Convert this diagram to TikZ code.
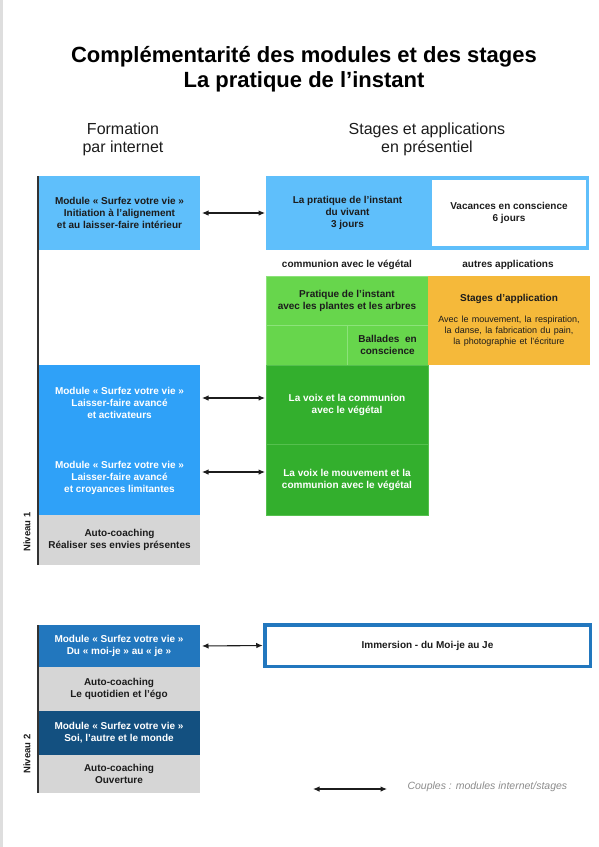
\documentclass[tikz,border=0pt]{standalone}
\usepackage{fontspec}
\setmainfont{Liberation Sans}
\usetikzlibrary{arrows}
\usetikzlibrary{arrows.meta}

\definecolor{ciel}{HTML}{5FBFFB}
\definecolor{azur}{HTML}{2FA1F8}
\definecolor{pousse}{HTML}{67D64C}
\definecolor{pousseligne}{HTML}{8CE27A}
\definecolor{foret}{HTML}{33AF2D}
\definecolor{foretligne}{HTML}{55C04E}
\definecolor{ocre}{HTML}{F5B93A}
\definecolor{galet}{HTML}{D6D6D6}
\definecolor{marine}{HTML}{2277BE}
\definecolor{abysse}{HTML}{135080}
\definecolor{encre}{HTML}{1C1C1C}
\definecolor{gris}{HTML}{8C8C8C}

\tikzstyle{bloc} = [rectangle, inner sep=0pt, outer sep=0pt, align=center, text=encre, font=\fontsize{10}{12}\selectfont\bfseries]
\tikzstyle{blanc} = [bloc, text=white]
\tikzstyle{couple} = [draw, {Latex[length=6.5pt,width=5.5pt]}-{Latex[length=6.5pt,width=5.5pt]}, line width=1.1pt, encre]
\tikzstyle{colonne} = [draw=black!80, line width=1.3pt]
\tikzstyle{niveau} = [rotate=90, text=encre, font=\fontsize{9.5}{11}\selectfont\bfseries]

\begin{document}
\begin{tikzpicture}[x=1pt,y=-1pt]
\useasboundingbox (0,0) rectangle (599,847);
\fill[white] (0,0) rectangle (599,847);
\fill[galet!80] (0,0) rectangle (2.5,847);

% titres
\node[font=\fontsize{22}{25}\selectfont\bfseries, align=center, text=black] (titre) at (304,69.5) {Complémentarité des modules et des stages\\La pratique de l’instant};
\node[font=\fontsize{16}{18}\selectfont, align=center, text=encre] (formation) at (123,139) {Formation\\par internet};
\node[font=\fontsize{16}{18}\selectfont, align=center, text=encre] (stages) at (427,139) {Stages et applications\\en présentiel};

% niveau 1
\node[bloc, fill=ciel, minimum width=161pt, minimum height=74pt] (m1) at (119.5,213) {Module « Surfez votre vie »\\Initiation à l’alignement\\et au laisser-faire intérieur};
\node[blanc, fill=azur, minimum width=161pt, minimum height=76pt] (m2) at (119.5,403) {Module « Surfez votre vie »\\Laisser-faire avancé\\et activateurs};
\node[blanc, fill=azur, minimum width=161pt, minimum height=74pt] (m3) at (119.5,478) {Module « Surfez votre vie »\\Laisser-faire avancé\\et croyances limitantes};
\node[bloc, fill=galet, minimum width=161pt, minimum height=50pt] (a1) at (119.5,540) {Auto-coaching\\Réaliser ses envies présentes};
\draw[colonne] ([xshift=-1pt]m1.north west) -- ([xshift=-1pt]a1.south west);
\node[niveau] (niv1) at (27,532) {Niveau 1};

\node[bloc, fill=ciel, minimum width=163pt, minimum height=74pt] (s1) at (347.5,213) {La pratique de l’instant\\du vivant\\3 jours};
\node[bloc, fill=white, draw=ciel, line width=3.5pt, minimum width=157pt, minimum height=70pt] (s2) at (509,213) {Vacances en conscience\\6 jours};

\node[bloc] (vegetal) at (347,265) {communion avec le végétal};
\node[bloc] (autres) at (508,265) {autres applications};

\node[bloc, fill=pousse, draw=pousseligne, line width=0.6pt, minimum width=162pt, minimum height=49pt] (p1) at (347,300.5) {Pratique de l’instant\\avec les plantes et les arbres};
\node[bloc, fill=pousse, draw=pousseligne, line width=0.6pt, minimum width=81pt, minimum height=40pt] (p2) at (306.5,345) {};
\node[bloc, fill=pousse, draw=pousseligne, line width=0.6pt, minimum width=81pt, minimum height=40pt] (p3) at (387.5,345) {Ballades~ en\\conscience};
\node[bloc, fill=ocre, minimum width=162pt, minimum height=89pt, text width=156pt] (o1) at (509,320.5) {Stages d’application\par\vspace{10pt}{\fontsize{9}{11}\selectfont\mdseries Avec le mouvement, la respiration,\\la danse, la fabrication du pain,\\la photographie et l’écriture\par}};

\node[blanc, fill=foret, draw=foretligne, line width=0.6pt, minimum width=162pt, minimum height=79pt] (v1) at (347,404.5) {La voix et la communion\\avec le végétal};
\node[blanc, fill=foret, draw=foretligne, line width=0.6pt, minimum width=162pt, minimum height=71pt] (v2) at (347,479.5) {La voix le mouvement et la\\communion avec le végétal};

\draw[couple, shorten <=2pt, shorten >=1pt] (m1.east) -- (s1.west);
\draw[couple, shorten <=2pt, shorten >=1pt] ([yshift=5pt]m2.east) -- ([yshift=5pt]m2.east -| v1.west);
\draw[couple, shorten <=2pt, shorten >=1pt] ([yshift=6pt]m3.east) -- ([yshift=6pt]m3.east -| v2.west);

% niveau 2
\node[blanc, fill=marine, minimum width=162pt, minimum height=42pt] (m4) at (119,646) {Module « Surfez votre vie »\\Du « moi-je » au « je »};
\node[bloc, fill=galet, minimum width=162pt, minimum height=44pt] (a2) at (119,689) {Auto-coaching\\Le quotidien et l’égo};
\node[blanc, fill=abysse, minimum width=162pt, minimum height=44pt] (m5) at (119,733) {Module « Surfez votre vie »\\Soi, l’autre et le monde};
\node[bloc, fill=galet, minimum width=162pt, minimum height=38pt] (a3) at (119,774) {Auto-coaching\\Ouverture};
\draw[colonne] (m4.north west) -- (a3.south west);
\node[niveau] (niv2) at (27,754) {Niveau 2};

\node[bloc, fill=white, draw=marine, line width=3.5pt, minimum width=325.5pt, minimum height=41.5pt] (im) at (427.5,645.5) {Immersion - du Moi-je au Je};
\draw[couple, shorten <=2pt, shorten >=2pt] (m4.east) -- (im.west);

% legende
\coordinate (lg1) at (313,789);
\coordinate (lg2) at (387,789);
\draw[couple] (lg1) -- (lg2);
\node[font=\fontsize{10.5}{12}\selectfont\itshape, text=gris, anchor=west] (legende) at (404,787) {Couples : modules internet/stages};
\end{tikzpicture}
\end{document}
